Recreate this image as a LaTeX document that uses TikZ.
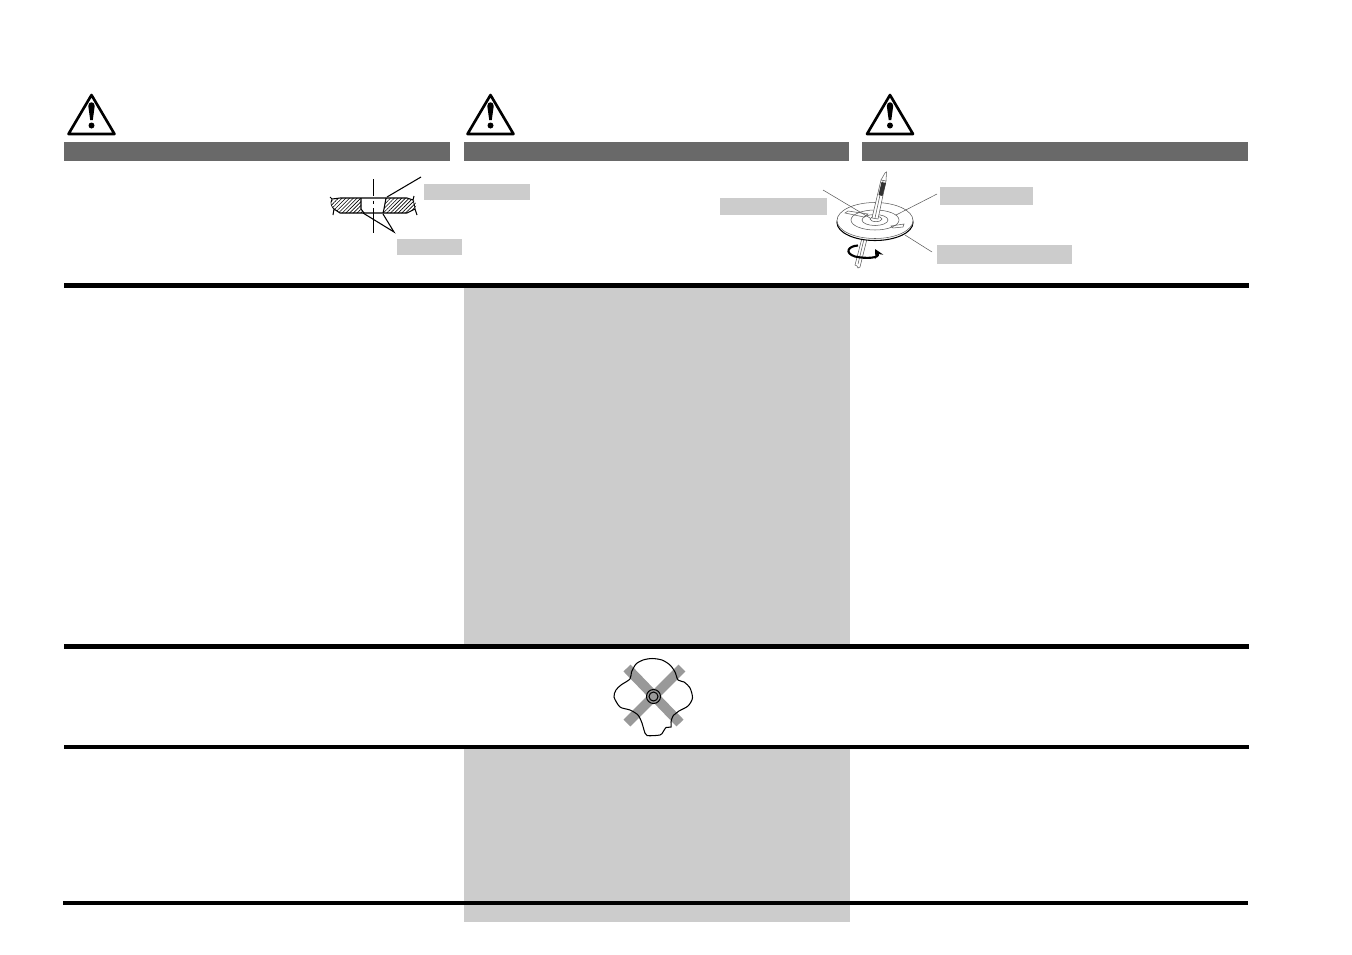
\documentclass[tikz,border=0pt]{standalone}
\usetikzlibrary{patterns.meta, arrows}
\definecolor{barcol}{gray}{0.41}
\definecolor{panelcol}{gray}{0.8}
\definecolor{bandcol}{gray}{0.6}
\definecolor{thincol}{gray}{0.35}
\tikzset{
  headbar/.style={fill=barcol, draw=none},
  panel/.style={fill=panelcol, draw=none},
  rulebar/.style={line width=2.4pt},
  leader/.style={line width=0.4pt},
  part/.style={line width=0.6pt},
  thinpart/.style={line width=0.3pt, draw=thincol},
  hatched/.style={pattern={Lines[angle=45, distance=1.5pt, line width=0.35pt]}},
  tag/.style={fill=panelcol, draw=none, inner sep=0pt, anchor=north west},
}
\begin{document}
\begin{tikzpicture}[x=0.02cm, y=-0.02cm, >=stealth]
  \useasboundingbox (0, 0) rectangle (1352, 954);

  % panels
  \fill[panel] (464, 287) rectangle (850, 645);
  \fill[panel] (464, 749) rectangle (850, 922);

  % header columns
  \foreach \bx/\ex/\wx in {64/450/91.5, 464/849/490.5, 862/1248/890} {
    \fill[headbar] (\bx, 142) rectangle (\ex, 161);
    \draw[line width=1.5pt, line join=round] (\wx, 95) -- (\wx+23, 134) -- (\wx-23, 134) -- cycle;
    \fill (\wx-3.2, 106) .. controls (\wx-3.2, 101) and (\wx+3.2, 101) .. (\wx+3.2, 106)
      -- (\wx+1.3, 120) -- (\wx-1.3, 120) -- cycle;
    \fill (\wx, 125.5) circle (3);
  }

  % rules
  \coordinate (r1a) at (64, 285.5);  \coordinate (r1b) at (1249, 285.5);
  \coordinate (r2a) at (64, 646.5);  \coordinate (r2b) at (1249, 646.5);
  \coordinate (r3a) at (64, 747);    \coordinate (r3b) at (1249, 747);
  \coordinate (r4a) at (63, 903);    \coordinate (r4b) at (1248, 903);
  \draw[rulebar] (r1a) -- (r1b);
  \draw[rulebar] (r2a) -- (r2b);
  \draw[rulebar] (r3a) -- (r3b);
  \draw[rulebar] (r4a) -- (r4b);

  % tags
  \node[tag, minimum width=2.12cm, minimum height=0.32cm] (tagrim) at (424, 184) {};
  \node[tag, minimum width=1.3cm, minimum height=0.32cm] (taghole) at (397, 239) {};
  \node[tag, minimum width=2.14cm, minimum height=0.34cm] (tagcentre) at (720, 198) {};
  \node[tag, minimum width=1.86cm, minimum height=0.36cm] (tagdisc) at (940, 187) {};
  \node[tag, minimum width=2.7cm, minimum height=0.38cm] (tagedge) at (937, 245) {};

  % disc section
  \fill[hatched] (340, 198) -- (361, 198) -- (361, 209) -- (365, 213) -- (340, 213) -- (332, 208) -- (331, 201) -- cycle;
  \fill[hatched] (386, 198) -- (407, 198) -- (415, 201) -- (417, 208) -- (407, 213) -- (383, 213) -- (384, 208) -- cycle;
  \draw[part] (330, 197) -- (332, 199) -- (340, 198) -- (407, 198) -- (413, 200) -- (414, 196);
  \draw[part] (333, 215) -- (334, 209) -- (340, 213) -- (407, 213) -- (415, 209) -- (417, 215);
  \draw[leader] (332, 199) .. controls (330, 203) and (331, 206) .. (334, 209);
  \draw[leader] (413, 200) .. controls (414, 204) and (415, 206) .. (415, 209);
  \draw[part] (361, 198) -- (361, 209) -- (364, 213);
  \draw[part] (386, 198) -- (384, 209) -- (383, 213);
  \draw[leader] (373, 179) -- (373, 196) (373, 200.5) -- (373, 204) (373, 208) -- (373, 233);
  \coordinate (rimtip) at (387, 197);   \coordinate (rimend) at (421, 177);
  \coordinate (holea) at (363, 213);    \coordinate (holeb) at (383, 214);
  \coordinate (holeend) at (394, 232);
  \draw[part] (rimtip) -- (rimend);
  \draw[part] (holea) -- (holeend) -- (holeb);

  % disc on pen
  \draw[thinpart] (857, 266) -- (855, 265) -- (862, 238) -- (867, 239) -- (860, 267) -- (858, 268) -- cycle;
  \draw[thinpart] (858, 264) -- (864, 239);
  \draw[part, fill=white] (875, 222.5) ellipse (38 and 18);
  \draw[thinpart, fill=white] (875, 220.5) ellipse (38 and 18);
  \draw[thinpart] (875, 220) ellipse (24 and 10);
  \draw[thinpart] (875, 220) ellipse (13 and 5.5);
  \draw[thinpart] (876, 219) ellipse (6 and 2.6);
  \draw[thinpart] (848, 211) -- (868, 214) -- (864, 217) -- (845, 213) -- cycle;
  \draw[thinpart] (891, 226) -- (904, 224) -- (903, 227) -- (893, 228) -- cycle;
  \draw[thinpart, fill=white] (872, 218) -- (881, 180) -- (886, 181) -- (878, 219) -- cycle;
  \draw[thinpart] (875, 218) -- (883, 181);
  \fill[black!80] (878.5, 195) -- (881.5, 182) -- (886, 183) -- (882.5, 196) -- cycle;
  \draw[thinpart] (881, 180) -- (885, 173) -- (886.5, 172) -- (886, 181);
  \draw[line width=1.2pt, ->] (858, 245.5) .. controls (848, 246) and (844, 253) .. (855, 256.5)
    .. controls (866, 259) and (880, 258) .. (875, 249);
  \coordinate (centretip) at (870, 218);  \coordinate (centreend) at (823, 190);
  \coordinate (disctip) at (896, 215);    \coordinate (discend) at (937, 194);
  \coordinate (edgetip) at (905, 235);    \coordinate (edgeend) at (932, 252);
  \draw[thinpart] (centretip) -- (centreend);
  \draw[thinpart] (disctip) -- (discend);
  \draw[thinpart] (edgetip) -- (edgeend);

  % crossed out shape
  \draw[bandcol, line width=5.6pt] (627, 668) -- (680, 723);
  \draw[bandcol, line width=5.6pt] (682, 668) -- (627, 723);
  \draw[part] plot[smooth cycle, tension=0.45] coordinates {
    (631.5, 672) (636, 664) (643, 660) (652, 658.5) (662, 660) (670, 665) (675, 672) (678, 680)
    (684, 682) (690, 688) (692.5, 698) (688, 706) (679, 711) (673, 716) (671, 722)
    (671, 727) (666, 727.5) (663, 732) (660, 735) (647, 735.5) (644, 730) (642, 723)
    (638, 715) (630, 710) (620, 707) (614, 697) (616, 690) (621, 685) (630, 679) };
  \draw[part] (653.5, 696.5) circle (7);
  \draw[part] (653.5, 696.5) circle (4.5);
\end{tikzpicture}
\end{document}
